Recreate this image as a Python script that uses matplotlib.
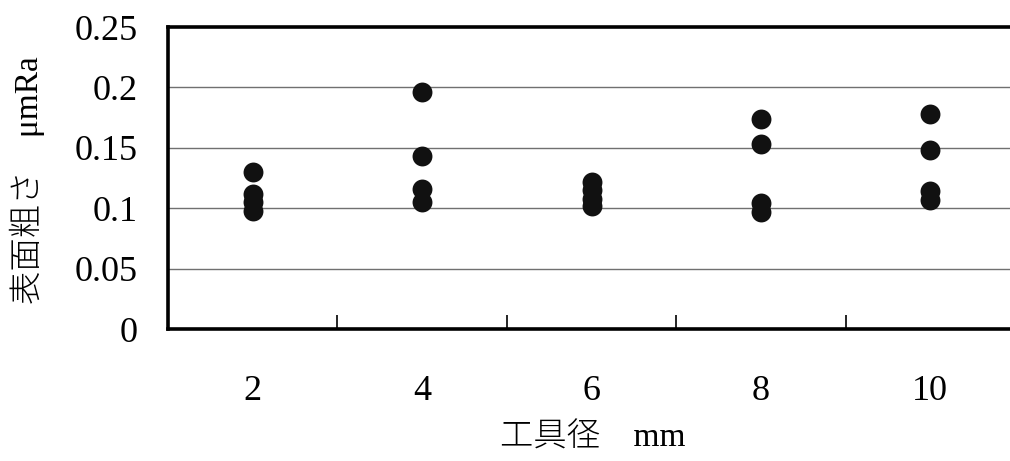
import matplotlib
matplotlib.use("Agg")
import matplotlib.pyplot as plt
from matplotlib.ticker import FixedLocator

plt.rcParams['font.family'] = ['Liberation Serif', 'Noto Sans CJK JP']

# Tool diameter categories (mm) and measured surface roughness (µmRa)
tool_diameters = ["2", "4", "6", "8", "10"]
roughness_d2 = [0.130, 0.112, 0.105, 0.098]
roughness_d4 = [0.196, 0.143, 0.116, 0.105]
roughness_d6 = [0.122, 0.115, 0.108, 0.102]
roughness_d8 = [0.174, 0.153, 0.104, 0.097]
roughness_d10 = [0.178, 0.148, 0.114, 0.107]
series = [roughness_d2, roughness_d4, roughness_d6, roughness_d8, roughness_d10]

y_ticks = [0, 0.05, 0.1, 0.15, 0.2, 0.25]
y_tick_labels = ["0", "0.05", "0.1", "0.15", "0.2", "0.25"]

fig = plt.figure(figsize=(10.10, 4.61), dpi=100)
ax = fig.add_axes([168 / 1010, 132 / 461, 847 / 1010, 302 / 461])

for i, vals in enumerate(series):
    ax.scatter([i] * len(vals), vals, s=205, color="#111111", zorder=3,
               linewidths=0)

ax.set_xlim(-0.5, len(tool_diameters) - 0.5)
ax.set_ylim(0, 0.25)

ax.set_xticks(range(len(tool_diameters)))
ax.set_xticklabels(tool_diameters, fontsize=26)
ax.xaxis.set_minor_locator(FixedLocator([i + 0.5 for i in range(len(tool_diameters) - 1)]))
ax.tick_params(axis="x", which="major", length=0, pad=33)
ax.tick_params(axis="x", which="minor", direction="in", length=10, width=1.2, color="black")

ax.set_yticks(y_ticks)
ax.set_yticklabels(y_tick_labels, fontsize=26)
ax.tick_params(axis="y", length=0, pad=22)

for y in y_ticks[1:-1]:
    ax.axhline(y, color="#707070", linewidth=1.0, zorder=1)

for side in ("left", "bottom", "top"):
    ax.spines[side].set_linewidth(2.6)
    ax.spines[side].set_color("black")
ax.spines["right"].set_visible(False)

fig.text(593 / 1010, 1 - 438 / 461, "工具径\u3000mm", fontsize=24,
         ha="center", va="center", fontweight="light")
fig.text(27 / 1010, 1 - 180 / 461, "表面粗さ\u3000μmRa", fontsize=24,
         ha="center", va="center", rotation=90, fontweight="light")

fig.savefig("out.png", dpi=100)
